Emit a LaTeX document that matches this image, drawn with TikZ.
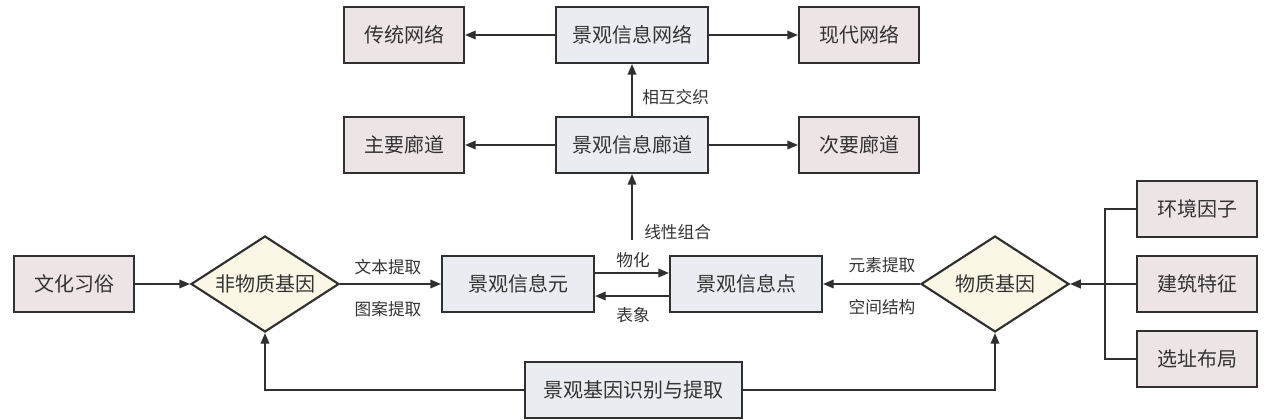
\documentclass[tikz,border=0pt]{standalone}
\usepackage{fontspec}
\setmainfont{Noto Sans CJK SC}
\usetikzlibrary{shapes.geometric,arrows.meta}
\definecolor{pinkfill}{HTML}{EDE4E6}
\definecolor{bluefill}{HTML}{E9EDF1}
\definecolor{creamfill}{HTML}{FBF7E6}
\definecolor{edgec}{HTML}{303030}
\definecolor{textc}{HTML}{333333}
\tikzset{
  basebox/.style={draw=edgec, line width=1.6pt, text=textc, font=\fontsize{15pt}{18pt}\selectfont, inner sep=0pt, minimum height=42pt},
  pinkbox/.style={basebox, fill=pinkfill, minimum width=90pt},
  bluebox/.style={basebox, fill=bluefill, minimum width=114pt},
  genebox/.style={draw=edgec, line width=1.6pt, fill=creamfill, text=textc, font=\fontsize{15pt}{18pt}\selectfont, shape=diamond, aspect=1.54, inner sep=0pt, minimum width=111pt, minimum height=72pt},
  arr/.style={draw=edgec, line width=1.1pt, -{Triangle[length=8pt,width=6.5pt]}},
  ln/.style={draw=edgec, line width=1.1pt},
  lab/.style={text=textc, font=\fontsize{12.5pt}{15pt}\selectfont, inner sep=0pt}
}
\begin{document}
\begin{tikzpicture}[x=0.75pt,y=-0.75pt]
\useasboundingbox (0,0) rectangle (1269,420);
% top row
\node[bluebox] (wl) at (632,35) {景观信息网络};
\node[pinkbox] (ct) at (404,35) {传统网络};
\node[pinkbox] (xd) at (859,35) {现代网络};
% middle row
\node[bluebox] (ld) at (632,145) {景观信息廊道};
\node[pinkbox] (zy) at (404,145) {主要廊道};
\node[pinkbox] (cy) at (859,145) {次要廊道};
% main row
\node[pinkbox] (wh) at (74,284) {文化习俗};
\node[genebox] (fwz) at (265,284) {非物质基因};
\node[bluebox] (xxy) at (518,284) {景观信息元};
\node[bluebox] (xxd) at (746,284) {景观信息点};
\node[genebox] (wz) at (995,284) {物质基因};
\node[pinkbox] (hj) at (1197,209) {环境因子};
\node[pinkbox] (jz) at (1197,284) {建筑特征};
\node[pinkbox] (xz) at (1197,359) {选址布局};
\node[basebox, fill=bluefill, minimum width=163pt] (sb) at (633.5,390) {景观基因识别与提取};
\coordinate (lx) at (632,240);
\coordinate (bus) at (1105,284);
% connectors
\draw[arr] (wl) -- (ct);
\draw[arr] (wl) -- (xd);
\draw[arr] (ld) -- (zy);
\draw[arr] (ld) -- (cy);
\draw[arr] (ld) -- (wl);
\node[lab, anchor=west] (l1) at (642,97) {相互交织};
\draw[arr] (lx) -- (ld);
\node[lab, anchor=west] (l2) at (644,232) {线性组合};
\draw[arr] (wh) -- (fwz);
\draw[arr] (fwz) -- (xxy);
\node[lab] (l3) at (388,267) {文本提取};
\node[lab] (l4) at (388,309) {图案提取};
\draw[arr] (xxy.east |- {(0,273)}) -- (xxd.west |- {(0,273)});
\draw[arr] (xxd.west |- {(0,296)}) -- (xxy.east |- {(0,296)});
\node[lab] (l5) at (633,260) {物化};
\node[lab] (l6) at (633,315) {表象};
\draw[arr] (wz) -- (xxd);
\node[lab] (l7) at (882,265) {元素提取};
\node[lab] (l8) at (882,307) {空间结构};
\draw[ln] (hj.west) -| (bus);
\draw[ln] (xz.west) -| (bus);
\draw[arr] (jz) -- (wz);
\draw[arr] (sb.west) -| (fwz.south);
\draw[arr] (sb.east) -| (wz.south);
\end{tikzpicture}
\end{document}
